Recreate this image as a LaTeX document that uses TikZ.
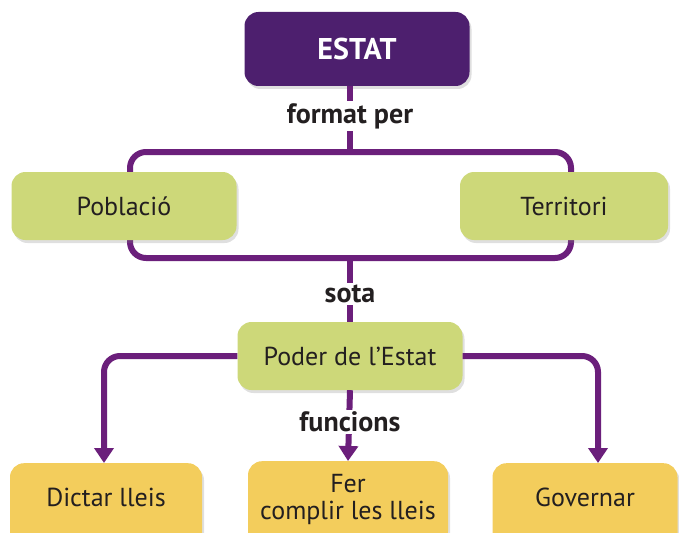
\documentclass[tikz,border=0pt]{standalone}
\usepackage{fontspec}
\setmainfont{PT Sans}
\usepackage{tikz}
\usetikzlibrary{arrows.meta}
\usetikzlibrary{calc}
\usetikzlibrary{positioning}
\usetikzlibrary{shadows}
\definecolor{lila}{HTML}{6B1F7B}
\definecolor{lilafosc}{HTML}{4D1F6E}
\definecolor{verd}{HTML}{CDD879}
\definecolor{groc}{HTML}{F3CD5C}
\definecolor{tinta}{HTML}{231F20}
\tikzset{
  caixa/.style={rounded corners=14pt, text=tinta, inner sep=0pt,
    font=\fontsize{26}{27}\selectfont, align=center,
    drop shadow={shadow xshift=2pt, shadow yshift=-3pt, opacity=0.25}},
  baix/.style={caixa, fill=groc, anchor=north, text height=43pt, text depth=41pt},
  enllac/.style={draw=lila, line width=6pt, rounded corners=16pt},
  fletxa/.style={enllac, -{Triangle[width=19pt,length=15pt]}},
  etiq/.style={fill=white, text=tinta, inner sep=2pt,
    font=\bfseries\fontsize{28}{29}\selectfont}
}
\begin{document}
\begin{tikzpicture}[x=1pt, y=-1pt]
    \useasboundingbox (0,0) rectangle (679,532);
    \clip (0,0) rectangle (679,532);
    % claudator
    \coordinate (ce) at (350,152);
    \coordinate (cs) at (350,258);
    \draw[enllac] (130,190) -- (130,152) -- (571,152) -- (571,190);
    \draw[enllac] (130,225) -- (130,258) -- (571,258) -- (571,225);
    % caixes
    \node[caixa, fill=lilafosc, text=white, font=\bfseries\fontsize{30}{31}\selectfont,
      minimum width=225pt, minimum height=74pt] (estat) at (357,49) {ESTAT};
    \node[caixa, fill=verd, minimum width=225pt, minimum height=68pt] (pob) at (124,206) {Població};
    \node[caixa, fill=verd, minimum width=208pt, minimum height=68pt] (ter) at (564,206) {Territori};
    \node[caixa, fill=verd, minimum width=225pt, minimum height=68pt] (poder) at (350,356) {Poder de l{\char"0027}Estat};
    \node[baix, minimum width=192pt] (dictar) at (106,463) {Dictar lleis};
    \node[baix, minimum width=200pt] (fer) at (348,461) {};
    \node[tinta, align=center, font=\fontsize{26}{27}\selectfont] (fertxt) at (348,499) {Fer\\complir les lleis};
    \node[baix, minimum width=185pt] (gov) at (585,463) {Governar};
    % connexions
    \draw[enllac] (estat.south -| ce) -- (ce);
    \draw[enllac] (cs) -- (poder.north);
    \draw[fletxa] (poder.west) -| (dictar.north -| 104,0);
    \draw[fletxa] (poder.east) -| (gov.north -| 598,0);
    \draw[fletxa] (poder.south) -- (fer.north);
    % etiquetes
    \node[etiq] (fp) at (350,116) {format per};
    \node[etiq] (so) at (350,294) {sota};
    \node[etiq] (fu) at (350,422) {funcions};
\end{tikzpicture}
\end{document}
